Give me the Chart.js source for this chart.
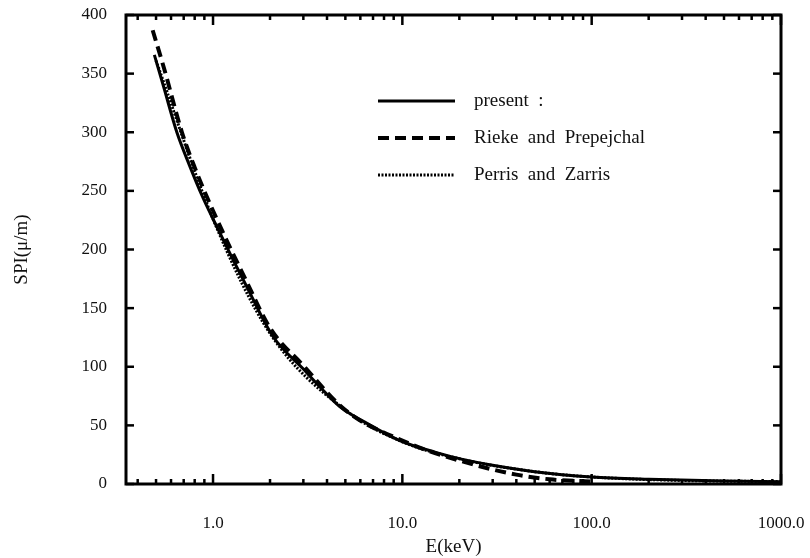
<!DOCTYPE html>
<html>
<head>
<meta charset="utf-8">
<script src="https://cdn.jsdelivr.net/npm/chart.js@4.4.1/dist/chart.umd.min.js"></script>
<style>
  html, body { margin: 0; padding: 0; background: #fff; }
  #wrap { width: 810px; height: 558px; }
</style>
</head>
<body>
<div id="wrap"><canvas id="spiChart"></canvas></div>
<script>
// values
const presentE   = [0.49, 0.55, 0.644, 0.75, 0.88, 1.0, 1.26, 1.5, 2.07, 3.0, 3.66, 4.67, 6.3, 9.7, 15, 20.8, 30, 50, 100, 200, 500, 1000];
const presentSPI = [366, 338, 300, 272, 245, 226, 193, 169, 126, 98, 83, 66, 53, 37, 27, 21, 16, 10.5, 6, 4, 2.5, 2];

const riekeE   = [0.48, 0.55, 0.685, 0.8, 1.0, 1.5, 2.0, 3.0, 5.0, 10, 20, 40, 60, 100];
const riekeSPI = [387, 355, 300, 270, 233, 173, 133, 101, 63, 37, 20, 8, 4, 2];

const perrisE   = [0.5, 1.0, 2.0, 5.0, 10, 20, 50, 100, 300, 1000];
const perrisSPI = [361, 226, 128.5, 63, 36, 21.5, 10.5, 6, 3, 2];

const xTickLabels = [1, 10, 100, 1000];
const yTickStep = 50;

const FONT = "'Liberation Serif', 'DejaVu Serif', serif";

function pts(xs, ys) {
  return xs.map((v, i) => ({ x: v, y: ys[i] }));
}

// frame with inward ticks on all four sides
const framePlugin = {
  id: 'frame',
  afterDatasetsDraw(chart) {
    const { ctx, chartArea: a, scales: { x, y } } = chart;
    ctx.save();
    ctx.strokeStyle = '#000';
    ctx.lineWidth = 3;
    ctx.strokeRect(a.left, a.top, a.width, a.height);
    ctx.lineWidth = 2.5;
    const line = (x1, y1, x2, y2) => { ctx.beginPath(); ctx.moveTo(x1, y1); ctx.lineTo(x2, y2); ctx.stroke(); };
    const e0 = Math.floor(Math.log10(x.min)), e1 = Math.ceil(Math.log10(x.max));
    for (let e = e0; e <= e1; e++) {
      for (let m = 1; m < 10; m++) {
        const v = m * Math.pow(10, e);
        if (v < x.min || v > x.max * 1.0001) continue;
        const px = x.getPixelForValue(v);
        const len = m === 1 ? 10 : 5;
        line(px, a.bottom, px, a.bottom - len);
        line(px, a.top, px, a.top + len);
      }
    }
    for (let v = y.min; v <= y.max; v += yTickStep) {
      const py = y.getPixelForValue(v);
      line(a.left, py, a.left + 8, py);
      line(a.right, py, a.right - 8, py);
    }
    ctx.restore();
  }
};

// legend inside the plot
const legendPlugin = {
  id: 'innerLegend',
  afterDraw(chart) {
    const ctx = chart.ctx;
    const x0 = 378, x1 = 455, tx = 474;
    const rows = [101, 138, 175];
    ctx.save();
    chart.data.datasets.forEach((ds, i) => {
      const yy = rows[i];
      ctx.strokeStyle = '#000';
      ctx.lineWidth = ds.borderWidth;
      ctx.setLineDash(ds.borderDash || []);
      ctx.beginPath(); ctx.moveTo(x0, yy); ctx.lineTo(x1, yy); ctx.stroke();
      ctx.setLineDash([]);
      ctx.fillStyle = '#111';
      ctx.font = '19px ' + FONT;
      ctx.textBaseline = 'middle';
      ctx.fillText(ds.label, tx, yy);
    });
    ctx.restore();
  }
};

new Chart(document.getElementById('spiChart'), {
  type: 'line',
  data: {
    datasets: [
      { label: 'present  :', data: pts(presentE, presentSPI), borderColor: '#000', borderWidth: 3, pointRadius: 0, cubicInterpolationMode: 'monotone', order: 1 },
      { label: 'Rieke  and  Prepejchal', data: pts(riekeE, riekeSPI), borderColor: '#000', borderWidth: 4, borderDash: [11, 6], pointRadius: 0, cubicInterpolationMode: 'monotone', order: 2 },
      { label: 'Perris  and  Zarris', data: pts(perrisE, perrisSPI), borderColor: '#000', borderWidth: 3, borderDash: [2, 1.5], pointRadius: 0, cubicInterpolationMode: 'monotone', order: 3 }
    ]
  },
  options: {
    responsive: true,
    maintainAspectRatio: false,
    animation: false,
    layout: { padding: { top: 15, right: 29, left: 0, bottom: 0 } },
    plugins: { legend: { display: false }, tooltip: { enabled: false } },
    scales: {
      x: {
        type: 'logarithmic',
        bounds: 'data',
        min: 0.347,
        max: 1000,
        grid: { display: false },
        border: { display: false },
        ticks: {
          autoSkip: false,
          maxRotation: 0,
          padding: 21,
          color: '#111',
          font: { family: FONT, size: 17 },
          callback: (v) => xTickLabels.some(t => Math.abs(t - v) < 1e-6 * t) ? Number(v).toFixed(1) : null
        },
        title: { display: true, text: 'E(keV)', color: '#111', font: { family: FONT, size: 19 }, padding: { top: 0, bottom: 0 } },
        afterFit(s) { s.height = 74; s.paddingLeft = 0; s.paddingRight = 0; }
      },
      y: {
        min: 0,
        max: 400,
        grid: { display: false },
        border: { display: false },
        ticks: { stepSize: yTickStep, padding: 11, color: '#111', font: { family: FONT, size: 17 } },
        title: { display: true, text: 'SPI(μ/m)', color: '#111', font: { family: FONT, size: 19 }, padding: { top: 11, bottom: 0 } },
        afterFit(s) { s.width = 126; s.paddingTop = 0; s.paddingBottom = 0; }
      }
    }
  },
  plugins: [framePlugin, legendPlugin]
});
</script>
</body>
</html>
